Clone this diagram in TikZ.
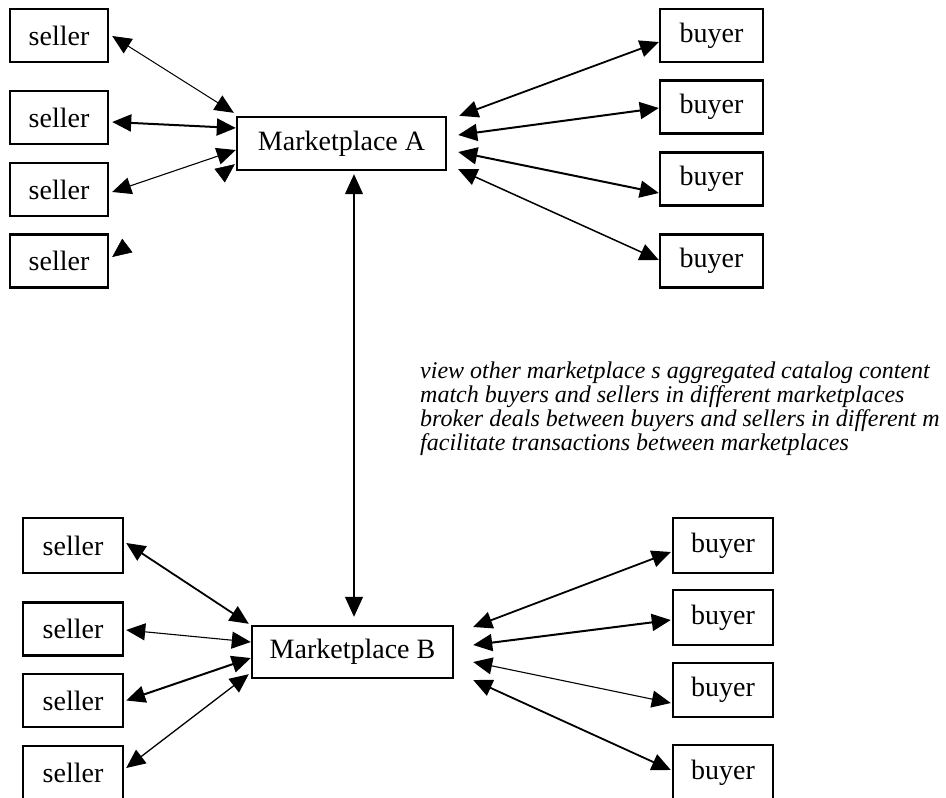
\documentclass[tikz,border=0pt]{standalone}
\usepackage{fontspec}
\setmainfont{Liberation Serif}
\usetikzlibrary{arrows.meta,calc}

\tikzset{
  party/.style={draw, line width=2.4pt, inner sep=0pt, minimum height=53pt,
    font=\fontsize{28}{34}\selectfont},
  sellerbox/.style={party, minimum width=98pt},
  buyerbox/.style={party, minimum width=103pt},
  marketbox/.style={party, minimum height=53pt},
  tip/.tip={Triangle[length=19pt,width=17pt]},
  link/.style={tip-tip, line width=1.5pt},
  ghostlink/.style={draw=white, line width=0.5pt,
    {Triangle[length=19pt,width=17pt,black]}-{Triangle[length=19pt,width=17pt,black]}},
  note/.style={anchor=base west, inner sep=0pt, font=\fontsize{24}{24}\selectfont\itshape}
}

\begin{document}
\begin{tikzpicture}[x=1pt, y=-1pt]
\useasboundingbox (0,0) rectangle (946,798);

% --- marketplace A with its sellers and buyers ---
\node[marketbox, minimum width=209pt] (A) at (341.5,143.5) {Marketplace A};

\node[sellerbox] (s1) at (59,35.5)  {seller};
\node[sellerbox] (s2) at (59,117.5) {seller};
\node[sellerbox] (s3) at (59,189.5) {seller};
\node[sellerbox] (s4) at (59,261)   {seller};

\node[buyerbox] (b1) at (711.5,35.5) {buyer};
\node[buyerbox] (b2) at (711.5,107)  {buyer};
\node[buyerbox] (b3) at (711.5,179)  {buyer};
\node[buyerbox] (b4) at (711.5,261)  {buyer};

\draw[link, line width=1pt]   ($(s1.east)+(3,0.5)$) -- ($(A.north west)+(-2,-3)$);
\draw[link, line width=2pt]   ($(s2.east)+(3,4.5)$) -- ($(A.west)+(0,-15.5)$);
\draw[link, line width=1.1pt] ($(s3.east)+(3,2.5)$) -- ($(A.west)+(0,6.5)$);
\draw[ghostlink]              ($(s4.east)+(3,-4)$)  -- ($(A.south west)+(-1,-7)$);

\draw[link, line width=1.8pt] ($(A.north east)+(12,0)$)  -- ($(b1.west)+(0,6.5)$);
\draw[link, line width=2pt]   ($(A.east)+(11,-8.5)$)     -- ($(b2.west)+(0,1)$);
\draw[link, line width=2pt]   ($(A.east)+(11,8.5)$)      -- ($(b3.west)+(0,14)$);
\draw[link, line width=1.5pt] ($(A.south east)+(11,-2)$) -- ($(b4.west)+(0,-1)$);

% --- link between the two marketplaces ---
\node[marketbox, minimum width=201pt, minimum height=52pt] (B) at (352.5,652) {Marketplace B};
\draw[link, line width=1.2pt,
  {Triangle[length=20pt,width=18pt]}-{Triangle[length=20pt,width=18pt]}]
  ($(A.south)+(12.5,3)$) -- ($(B.north)+(1.5,-8)$);

\node[note] (t1) at (420,378) {view other marketplace s aggregated catalog content};
\node[note] (t2) at (420,402) {match buyers and sellers in different marketplaces};
\node[note] (t3) at (420,426) {broker deals between buyers and sellers in different m};
\node[note] (t4) at (420,450) {facilitate transactions between marketplaces};

% --- marketplace B with its sellers and buyers ---
\node[sellerbox, minimum width=100pt, minimum height=55pt] (s5) at (73,545.5) {seller};
\node[sellerbox, minimum width=100pt] (s6) at (73,629)   {seller};
\node[sellerbox, minimum width=100pt] (s7) at (73,700.5) {seller};
\node[sellerbox, minimum width=100pt, minimum height=54pt] (s8) at (73,773) {seller};

\node[buyerbox, minimum width=100pt, minimum height=55pt] (b5) at (723,545.5) {buyer};
\node[buyerbox, minimum width=100pt, minimum height=55pt] (b6) at (723,617.5) {buyer};
\node[buyerbox, minimum width=100pt, minimum height=54pt] (b7) at (723,690)   {buyer};
\node[buyerbox, minimum width=100pt, minimum height=55pt] (b8) at (723,772.5) {buyer};

\draw[link, line width=1.8pt] ($(s5.east)+(2,-2.5)$) -- ($(B.north west)+(-2,-1)$);
\draw[link, line width=1.1pt] ($(s6.east)+(2,1)$)    -- ($(B.west)+(0,-10)$);
\draw[link, line width=2pt]   ($(s7.east)+(2,0)$)    -- ($(B.west)+(0,6)$);
\draw[link, line width=1.3pt] ($(s8.east)+(2,-5)$)   -- ($(B.south west)+(-2,-5)$);

\draw[link, line width=1.8pt] ($(B.east)+(19,-25)$) -- ($(b5.west)+(-1,6.5)$);
\draw[link, line width=2pt]   ($(B.east)+(19,-7)$)  -- ($(b6.west)+(-1,2.5)$);
\draw[link, line width=1.1pt] ($(B.east)+(19,10)$)  -- ($(b7.west)+(-1,13)$);
\draw[link, line width=1.8pt] ($(B.east)+(19,28)$)  -- ($(b8.west)+(-1,-2.5)$);
\end{tikzpicture}
\end{document}
